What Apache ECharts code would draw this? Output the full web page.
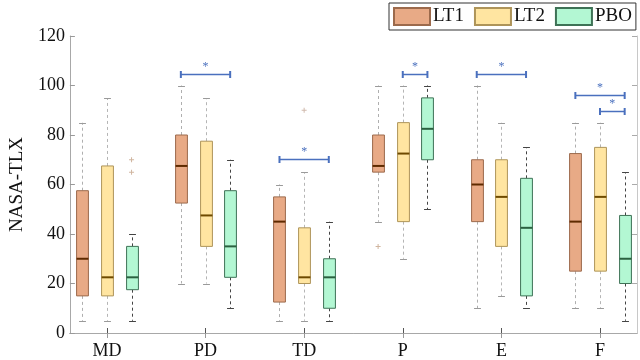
<!DOCTYPE html>
<html><head><meta charset="utf-8">
<script src="https://cdn.jsdelivr.net/npm/echarts@6/dist/echarts.min.js"></script>
<style>html,body{margin:0;padding:0;background:#fff}#c{width:640px;height:360px}</style>
</head><body><div id="c"></div>
<script>
var categories = ['MD','PD','TD','P','E','F'];
var yTicks = [0,20,40,60,80,100,120];
// [min, q1, median, q3, max] per category
var LT1 = [[5,15,30,57.5,85],[20,52.5,67.5,80,100],[5,12.5,45,55,60],[45,65,67.5,80,100],[10,45,60,70,100],[10,25,45,72.5,85]];
var LT2 = [[5,15,22.5,67.5,95],[20,35,47.5,77.5,95],[5,20,22.5,42.5,65],[30,45,72.5,85,100],[15,35,55,70,85],[10,25,55,75,85]];
var PBO = [[5,17.5,22.5,35,40],[10,22.5,35,57.5,70],[5,10,22.5,30,45],[50,70,82.5,95,100],[10,15,42.5,62.5,75],[5,20,30,47.5,65]];
// outliers: [categoryIndex, value]
var LT1_out = [[3,35]];
var LT2_out = [[2,90]];
var PBO_out = [[0,70],[0,65]];
// significance brackets: [categoryIndex, fromGroup, toGroup, y]
var brackets = [[1,0,2,104.5],[2,0,2,70.5],[3,1,2,104.5],[4,0,2,104.5],[5,0,2,96],[5,1,2,89.5]];

var offsets = [-0.25, 0, 0.25];
var groups = [
  {name:'LT1', data:LT1, out:LT1_out, fill:'#E8AA86', border:'#9C6A4C', median:'#5E2A00', whisker:'#AFAFAF', cap:'#9A9A9A', outc:'#C4A287'},
  {name:'LT2', data:LT2, out:LT2_out, fill:'#FFE5A1', border:'#AE9459', median:'#6E4A00', whisker:'#B5B5B5', cap:'#9A9A9A', outc:'#C4A897'},
  {name:'PBO', data:PBO, out:PBO_out, fill:'#B3F7D3', border:'#3E7256', median:'#2B6140', whisker:'#444444', cap:'#444444', outc:'#C4A287'}
];

var series = [];
groups.forEach(function(g, gi){
  var d = g.data.map(function(v, ci){ return [ci + 1 + offsets[gi]].concat(v); });
  series.push({
    name: g.name, type: 'custom', xAxisIndex:0, yAxisIndex:0,
    itemStyle: {color: g.fill, borderColor: g.border, borderWidth: 1},
    encode: {x: 0, y: [1,2,3,4,5]},
    data: d,
    renderItem: function(params, api){
      var x = api.value(0);
      var pMin = api.coord([x, api.value(1)]);
      var pQ1 = api.coord([x, api.value(2)]);
      var pMed = api.coord([x, api.value(3)]);
      var pQ3 = api.coord([x, api.value(4)]);
      var pMax = api.coord([x, api.value(5)]);
      var hw = api.size([0.12, 0])[0] / 2;
      var cw = api.size([0.07, 0])[0] / 2;
      var cx = Math.round(pQ1[0]) + 0.5;
      var dash = {stroke: g.whisker, lineWidth: 1, lineDash: [3,3]};
      var capS = {stroke: g.cap, lineWidth: 1};
      return {type:'group', children:[
        {type:'line', shape:{x1:cx, y1:pQ3[1], x2:cx, y2:pMax[1]}, style:dash},
        {type:'line', shape:{x1:cx, y1:pQ1[1], x2:cx, y2:pMin[1]}, style:dash},
        {type:'line', shape:{x1:cx-cw, y1:Math.round(pMax[1])+0.5, x2:cx+cw, y2:Math.round(pMax[1])+0.5}, style:capS},
        {type:'line', shape:{x1:cx-cw, y1:Math.round(pMin[1])+0.5, x2:cx+cw, y2:Math.round(pMin[1])+0.5}, style:capS},
        {type:'rect', shape:{x:cx-hw, y:pQ3[1], width:hw*2, height:pQ1[1]-pQ3[1]}, style:{fill:g.fill, stroke:g.border, lineWidth:1}},
        {type:'line', shape:{x1:cx-hw, y1:pMed[1], x2:cx+hw, y2:pMed[1]}, style:{stroke:g.median, lineWidth:2}}
      ]};
    }
  });
  series.push({
    name: g.name + ' outliers', type:'scatter', xAxisIndex:0, yAxisIndex:0,
    symbol: 'path://M4,0L6,0L6,4L10,4L10,6L6,6L6,10L4,10L4,6L0,6L0,4L4,4Z',
    symbolSize: 5, itemStyle:{color:g.outc}, silent:true,
    data: g.out.map(function(o){ return [o[0] + 1 + offsets[gi], o[1]]; })
  });
});

series.push({
  name:'sig', type:'custom', xAxisIndex:0, yAxisIndex:0, silent:true,
  data: brackets.map(function(b){ return [b[0]+1+offsets[b[1]], b[0]+1+offsets[b[2]], b[3]]; }),
  renderItem: function(params, api){
    var p1 = api.coord([api.value(0), api.value(2)]);
    var p2 = api.coord([api.value(1), api.value(2)]);
    var y = Math.round(p1[1]) + 0.5;
    var c = '#4A70BE';
    return {type:'group', children:[
      {type:'line', shape:{x1:p1[0], y1:y, x2:p2[0], y2:y}, style:{stroke:c, lineWidth:1.5}},
      {type:'line', shape:{x1:p1[0], y1:y-3.5, x2:p1[0], y2:y+3.5}, style:{stroke:c, lineWidth:2}},
      {type:'line', shape:{x1:p2[0], y1:y-3.5, x2:p2[0], y2:y+3.5}, style:{stroke:c, lineWidth:2}},
      {type:'text', style:{text:'*', x:(p1[0]+p2[0])/2, y:y-2, fill:c, font:'12px "Liberation Serif"', align:'center', verticalAlign:'bottom'}}
    ]};
  }
});

var font = '"Liberation Serif", "DejaVu Serif", serif';
var option = {
  animation:false,
  backgroundColor:'#fff',
  legend: {
    data:['LT1','LT2','PBO'], left:389, top:3, width:250,
    icon:'rect', itemWidth:36, itemHeight:17, itemGap:10,
    padding:[4,4,4,4],
    borderColor:'#333', borderWidth:1,
    textStyle:{fontFamily:font, fontSize:19, color:'#111', padding:[0,0,0,-2]}
  },
  grid:{left:55, top:36, right:3, bottom:26, containLabel:false},
  xAxis:[{
    type:'value', min:0.625, max:6.375, position:'bottom',
    axisLine:{show:true, lineStyle:{color:'#A8A8A8'}},
    axisTick:{show:true, inside:true, length:5, customValues:[1,2,3,4,5,6], lineStyle:{color:'#555'}},
    axisLabel:{show:true, customValues:[1,2,3,4,5,6], margin:9, fontFamily:font, fontSize:18, color:'#111',
      formatter:function(v){ return categories[Math.round(v)-1] || ''; }},
    splitLine:{show:false}
  },{
    type:'value', min:0.625, max:6.375, position:'top',
    axisLine:{show:true, lineStyle:{color:'#A8A8A8'}},
    axisTick:{show:true, inside:true, length:5, customValues:[1,2,3,4,5,6], lineStyle:{color:'#999'}},
    axisLabel:{show:false}, splitLine:{show:false}
  }],
  yAxis:[{
    type:'value', min:0, max:120, interval:20, position:'left',
    name:'NASA-TLX', nameLocation:'middle', nameGap:40, nameRotate:90,
    nameTextStyle:{fontFamily:font, fontSize:19, color:'#111'},
    axisLine:{show:true, lineStyle:{color:'#A8A8A8'}},
    axisTick:{show:true, inside:true, length:5, lineStyle:{color:'#999'}},
    axisLabel:{margin:5, fontFamily:font, fontSize:18, color:'#111',
      formatter:function(v){ return yTicks.indexOf(v) >= 0 ? String(v) : ''; }},
    splitLine:{show:false}
  },{
    type:'value', min:0, max:120, interval:20, position:'right',
    axisLine:{show:true, lineStyle:{color:'#C8C8C8'}},
    axisTick:{show:true, inside:true, length:5, lineStyle:{color:'#AAA'}},
    axisLabel:{show:false}, splitLine:{show:false}
  }],
  series: series
};
var chart = echarts.init(document.getElementById('c'), null, {renderer:'canvas'});
chart.setOption(option);
</script></body></html>
